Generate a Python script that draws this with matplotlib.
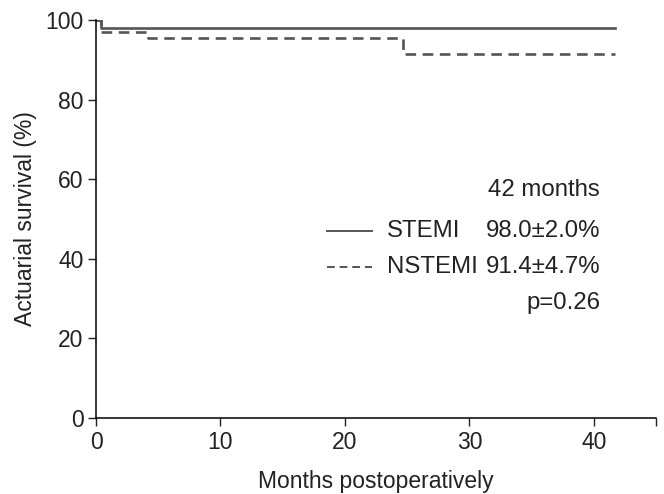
import numpy as np
import matplotlib
matplotlib.use("Agg")
import matplotlib.pyplot as plt

plt.rcParams['font.family'] = ['Liberation Sans', 'DejaVu Sans']

# Kaplan-Meier style step data (months, survival %)
stemi_t = [0, 0.4, 41.7]
stemi_s = [100, 98.0, 98.0]
nstemi_t = [0, 0.4, 4.2, 24.7, 41.7]
nstemi_s = [100, 97.0, 95.6, 91.4, 91.4]

groups = ["STEMI", "NSTEMI"]
rates = ["98.0±2.0%", "91.4±4.7%"]
p_text = "p=0.26"

fig = plt.figure(figsize=(6.64, 4.94), dpi=100)
ax = fig.add_axes([0.1446, 0.1538, 0.8434, 0.8057])

line_col = "#555555"
txt_col = "#222222"
fs = 16.5
afs = 17.3
ax.step(stemi_t, stemi_s, where="post", color=line_col, lw=1.9, linestyle="-")
ax.step(nstemi_t, nstemi_s, where="post", color=line_col, lw=1.9, linestyle=(0, (4, 2.5)))

ax.set_xlim(0, 45)
ax.set_ylim(0, 100)
ax.set_xticks([0, 10, 20, 30, 40, 45])
ax.set_xticklabels(["0", "10", "20", "30", "40", ""])
ax.set_yticks([0, 20, 40, 60, 80, 100])
ax.tick_params(labelsize=16.5, length=6, width=1, direction="out", colors=txt_col, pad=3)
for s in ["top", "right"]:
    ax.spines[s].set_visible(False)
for s in ["left", "bottom"]:
    ax.spines[s].set_linewidth(1.1)
ax.set_xlabel("Months postoperatively", fontsize=fs, labelpad=12, color=txt_col)
ax.set_ylabel("Actuarial survival (%)", fontsize=fs, labelpad=6, color=txt_col)

# annotation block
ax.text(40.5, 57.3, "42 months", fontsize=afs, ha="right", va="center", color=txt_col)
ys = [47.0, 38.0]
styles = ["-", (0, (4, 2.5))]
for g, r, y, st in zip(groups, rates, ys, styles):
    ax.plot([18.55, 22.2], [y, y], color=line_col, lw=1.4, linestyle=st)
    ax.text(23.4, y, g, fontsize=afs, ha="left", va="center", color=txt_col)
    ax.text(40.5, y, r, fontsize=afs, ha="right", va="center", color=txt_col)
ax.text(40.5, 28.9, p_text, fontsize=afs, ha="right", va="center", color=txt_col)

fig.savefig("out.png", dpi=100)
